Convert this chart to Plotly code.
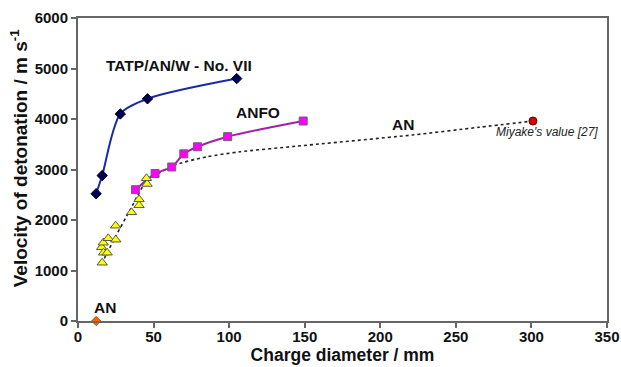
import plotly.graph_objects as go

# TATP/AN/W - No. VII
tatp_x = [12, 16, 28, 46, 105]
tatp_y = [2520, 2880, 4100, 4400, 4800]

# ANFO
anfo_x = [38, 51, 62, 70, 79, 99, 149]
anfo_y = [2600, 2920, 3050, 3310, 3450, 3650, 3960]

# AN experimental (triangles)
an_x = [16.0, 15.6, 16.9, 19.3, 16.7, 20.0, 25.0, 24.9, 35.4, 40.4, 40.4, 45.7, 45.3]
an_y = [1154, 1459, 1352, 1352, 1550, 1638, 1610, 1887, 2152, 2291, 2410, 2713, 2826]

# AN trend (dotted)
an_fit_x = [15.5, 25, 35, 45, 52, 63, 85, 107, 144, 221, 265, 301]
an_fit_y = [1130, 1680, 2230, 2760, 2900, 3080, 3250, 3350, 3460, 3683, 3835, 3960]

# Miyake's value
miyake_x = [301]
miyake_y = [3960]

# AN at zero
an0_x = [12]
an0_y = [0]

xt = [0, 50, 100, 150, 200, 250, 300, 350]
yt = [0, 1000, 2000, 3000, 4000, 5000, 6000]

FONT = "Liberation Sans, Arial, sans-serif"

fig = go.Figure()

fig.add_trace(go.Scatter(x=an_fit_x, y=an_fit_y, mode="lines",
                         line=dict(color="#222222", width=1.6, dash="dot", shape="spline", smoothing=0.7),
                         showlegend=False))
fig.add_trace(go.Scatter(x=anfo_x, y=anfo_y, mode="lines+markers",
                         line=dict(color="#a020a8", width=2, shape="spline", smoothing=0.8),
                         marker=dict(symbol="square", size=8, color="#ff00ff",
                                     line=dict(color="#666666", width=1)),
                         showlegend=False))
fig.add_trace(go.Scatter(x=an_x, y=an_y, mode="markers",
                         marker=dict(symbol="triangle-up", size=9, color="#ffff00",
                                     line=dict(color="#555555", width=1)),
                         showlegend=False))
fig.add_trace(go.Scatter(x=tatp_x, y=tatp_y, mode="lines+markers",
                         line=dict(color="#1a2aa0", width=2, shape="spline", smoothing=0.8),
                         marker=dict(symbol="diamond", size=8, color="#000050",
                                     line=dict(color="#000030", width=1)),
                         showlegend=False))
fig.add_trace(go.Scatter(x=miyake_x, y=miyake_y, mode="markers",
                         marker=dict(symbol="circle", size=8, color="#e00000",
                                     line=dict(color="#600000", width=1)),
                         showlegend=False))
fig.add_trace(go.Scatter(x=an0_x, y=an0_y, mode="markers",
                         marker=dict(symbol="diamond", size=7, color="#ff6600",
                                     line=dict(color="#a04000", width=1)),
                         showlegend=False, cliponaxis=False))

lbl = dict(family=FONT, size=15.5, color="#111111")
fig.add_annotation(x=67, y=5050, text="<b>TATP/AN/W - No. VII</b>", showarrow=False, font=lbl)
fig.add_annotation(x=119, y=4120, text="<b>ANFO</b>", showarrow=False, font=lbl)
fig.add_annotation(x=215, y=3900, text="<b>AN</b>", showarrow=False, font=lbl)
fig.add_annotation(x=18, y=270, text="<b>AN</b>", showarrow=False, font=lbl)
fig.add_annotation(x=310, y=3745, text="<i>Miyake's value [27]</i>", showarrow=False,
                   font=dict(family=FONT, size=12, color="#222222"))
# y-axis title as a rotated annotation for exact placement
fig.add_annotation(xref="paper", yref="paper", x=-0.111, y=0.538, xanchor="center", yanchor="middle",
                   textangle=-90, showarrow=False,
                   text="<b>Velocity of detonation / m s<sup>-1</sup></b>",
                   font=dict(family=FONT, size=19, color="#111111"))

axis_common = dict(showline=True, linecolor="#666666", linewidth=2, mirror=True,
                   ticks="outside", ticklen=5, tickcolor="#666666", tickwidth=1.5,
                   showgrid=False, zeroline=False, automargin=False,
                   tickfont=dict(family=FONT, size=15, color="#111111"))

fig.update_xaxes(range=[0, 350], tickvals=xt, ticktext=["<b>%d</b>" % v for v in xt],
                 ticklabelstandoff=-4,
                 title=dict(text="<b>Charge diameter / mm</b>", standoff=0,
                            font=dict(family=FONT, size=17.5, color="#111111")),
                 **axis_common)
fig.update_yaxes(range=[0, 6000], tickvals=yt, ticktext=["<b>%d</b>" % v for v in yt],
                 **axis_common)

fig.update_layout(width=621, height=367, margin=dict(l=78, r=14, t=18, b=46),
                  plot_bgcolor="white", paper_bgcolor="white")

fig.write_html("out.html", config={"displayModeBar": False},
               post_script="document.body.style.margin='0px';")
